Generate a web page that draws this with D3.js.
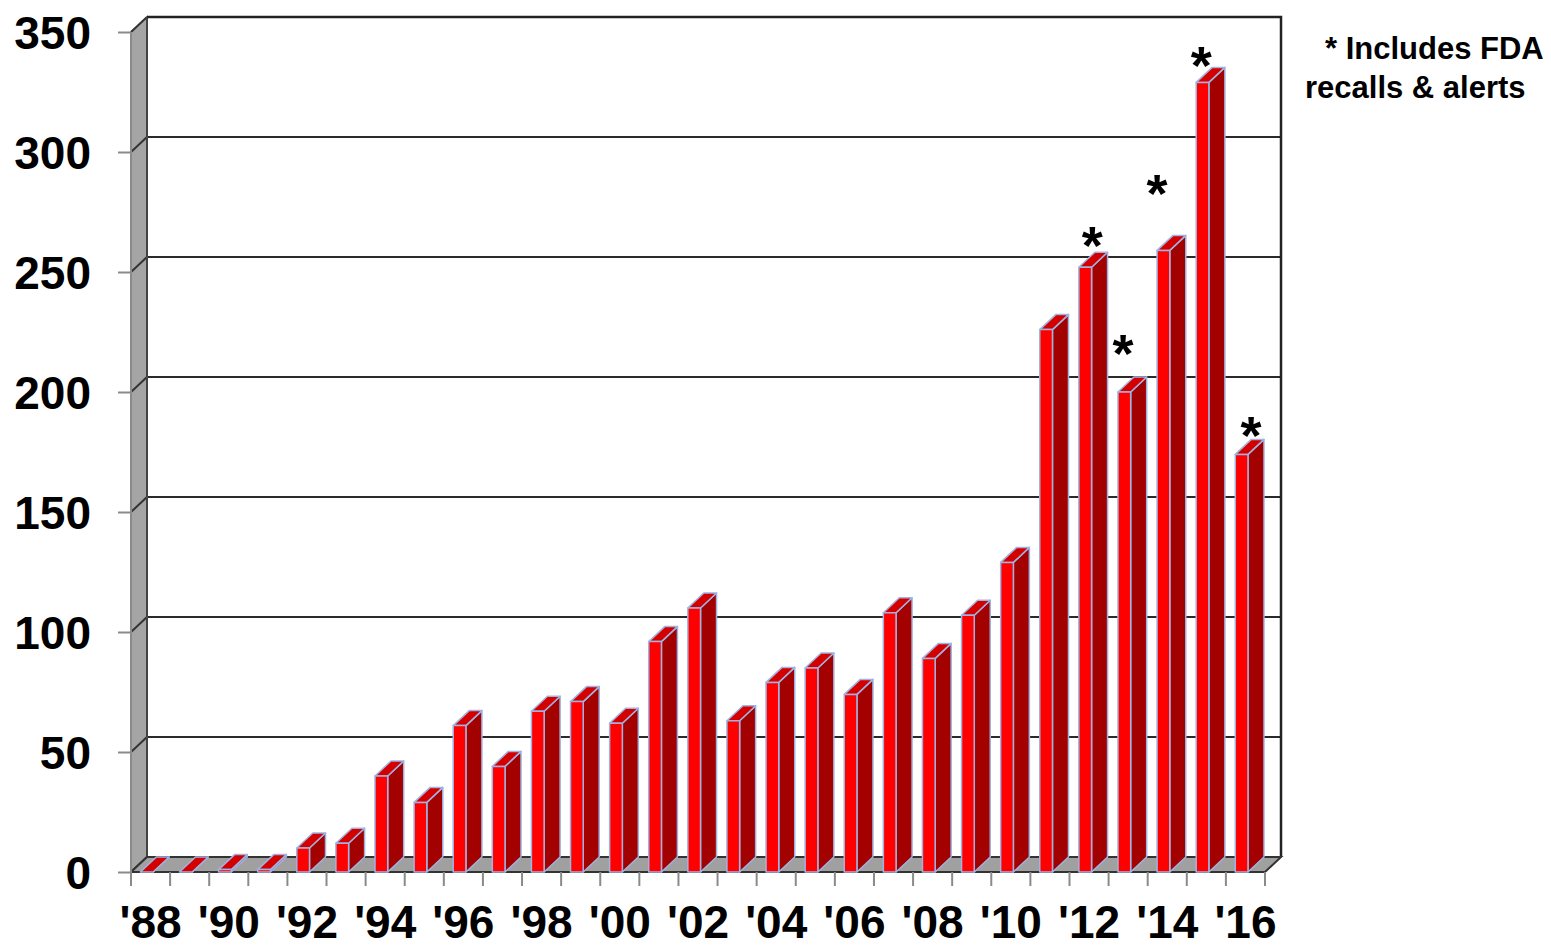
<!DOCTYPE html>
<html>
<head>
<meta charset="utf-8">
<script src="https://cdn.jsdelivr.net/npm/d3@7"></script>
<style>
  body { margin: 0; background: #fff; }
  svg { display: block; }
  text { font-family: "Liberation Sans", Arial, sans-serif; }
</style>
</head>
<body>
<svg id="chart" width="1551" height="947"></svg>
<script>
// Incidents per year, 1988-2016
const years = [1988, 1989, 1990, 1991, 1992, 1993, 1994, 1995, 1996, 1997,
               1998, 1999, 2000, 2001, 2002, 2003, 2004, 2005, 2006, 2007,
               2008, 2009, 2010, 2011, 2012, 2013, 2014, 2015, 2016];
const incidents = [0, 0, 1, 1, 10, 12, 40, 29, 61, 44,
                   67, 71, 62, 96, 110, 63, 79, 85, 74, 108,
                   89, 107, 129, 226, 252, 200, 259, 329, 174];
const yTicks = [0, 50, 100, 150, 200, 250, 300, 350];
const labelYears = [1988, 1990, 1992, 1994, 1996, 1998, 2000, 2002,
                    2004, 2006, 2008, 2010, 2012, 2014, 2016];
// Years whose counts include FDA recalls & alerts
const flaggedYears = [2012, 2013, 2014, 2015, 2016];
const noteLines = ["* Includes FDA", "recalls & alerts"];

// Asterisk placement: level in chart units, horizontal spot as a fraction of the band
const flagLevel = [266, 221, 288, 341, 187];
const flagShift = [0.58, 0.37, 0.24, 0.37, 0.64];

const svg = d3.select("#chart");

// Front plane of the 3-D box and its depth offset
const X0 = 131, X1 = 1265, Y0 = 872, Y1 = 32;
const DX = 16, DY = -15;

const x = d3.scaleBand().domain(years).range([X0, X1]).padding(0);
const y = d3.scaleLinear().domain([0, 350]).range([Y0, Y1]);
const bw = x.bandwidth();

const pts = a => a.map(p => p.join(",")).join(" ");

// Back wall
svg.append("rect")
  .attr("x", X0 + DX).attr("y", y(350) + DY)
  .attr("width", X1 - X0).attr("height", Y0 - y(350))
  .attr("fill", "#fff");

// Gridlines on the back wall
const grid = svg.append("g");
yTicks.filter(v => v > 0).forEach(v => {
  grid.append("line")
    .attr("x1", X0 + DX).attr("x2", X1 + DX)
    .attr("y1", y(v) + DY).attr("y2", y(v) + DY)
    .attr("stroke", "#2a2a2a").attr("stroke-width", 2);
});

// Left wall with its own grid steps
svg.append("polygon")
  .attr("points", pts([[X0, y(350)], [X0 + DX, y(350) + DY], [X0 + DX, Y0 + DY], [X0, Y0]]))
  .attr("fill", "#a5a5a5").attr("stroke", "#7a7a7a").attr("stroke-width", 1.5);
yTicks.forEach(v => {
  svg.append("line")
    .attr("x1", X0).attr("y1", y(v))
    .attr("x2", X0 + DX).attr("y2", y(v) + DY)
    .attr("stroke", "#333").attr("stroke-width", 2);
});
svg.append("line")
  .attr("x1", X0 + DX).attr("x2", X0 + DX)
  .attr("y1", y(350) + DY).attr("y2", Y0 + DY)
  .attr("stroke", "#444").attr("stroke-width", 2);

// Outer frame of the back wall (top and right)
svg.append("polyline")
  .attr("points", pts([[X0 + DX, y(350) + DY], [X1 + DX, y(350) + DY], [X1 + DX, Y0 + DY]]))
  .attr("fill", "none").attr("stroke", "#222").attr("stroke-width", 2.5);

// Floor
svg.append("polygon")
  .attr("points", pts([[X0, Y0], [X0 + DX, Y0 + DY], [X1 + DX, Y0 + DY], [X1, Y0]]))
  .attr("fill", "#a0a0a0").attr("stroke", "#333").attr("stroke-width", 2);

// Bars: front face, side face and top face
const bars = svg.append("g");
years.forEach((yr, i) => {
  const v = incidents[i];
  const fx = x(yr) + 0.24 * bw;
  const fw = 0.325 * bw;
  const top = y(v);
  const g = bars.append("g")
    .attr("stroke", "#9fb3e3").attr("stroke-width", 1.5).attr("stroke-linejoin", "round");
  g.append("polygon")
    .attr("points", pts([[fx + fw, Y0], [fx + fw, top], [fx + fw + DX, top + DY], [fx + fw + DX, Y0 + DY]]))
    .attr("fill", "#a30000");
  g.append("polygon")
    .attr("points", pts([[fx, top], [fx + fw, top], [fx + fw + DX, top + DY], [fx + DX, top + DY]]))
    .attr("fill", "#d40000");
  g.append("rect")
    .attr("x", fx).attr("y", top)
    .attr("width", fw).attr("height", Y0 - top)
    .attr("fill", "#ff0000");
});

// Value axis
const yAxis = d3.axisLeft(y)
  .tickValues(yTicks)
  .tickSize(13).tickSizeOuter(0).tickPadding(27)
  .tickFormat(d3.format("d"));
const ya = svg.append("g").attr("transform", `translate(${X0},0)`).call(yAxis);
ya.select(".domain").attr("stroke", "#8a8a8a").attr("stroke-width", 2)
  .attr("d", `M0,${y(350)}V${Y0 + 14}`);
ya.selectAll(".tick line").attr("stroke", "#8a8a8a").attr("stroke-width", 2);
ya.selectAll(".tick text")
  .attr("fill", "#000").attr("font-size", 46).attr("font-weight", "bold")
  .attr("font-family", "'Liberation Sans', Arial, sans-serif")
  .attr("dy", "0.36em");

// Category axis: ticks on band boundaries, labels every other year
const bounds = years.map(yr => x(yr)).concat([X1]);
svg.append("g").selectAll("line").data(bounds).join("line")
  .attr("x1", d => d).attr("x2", d => d)
  .attr("y1", Y0).attr("y2", Y0 + 14)
  .attr("stroke", "#8a8a8a").attr("stroke-width", 2);

const xAxis = d3.axisBottom(x)
  .tickValues(labelYears)
  .tickSize(0).tickPadding(33)
  .tickFormat(d => "'" + String(d).slice(2));
const xa = svg.append("g").attr("transform", `translate(0,${Y0})`).call(xAxis);
xa.select(".domain").remove();
xa.selectAll(".tick text")
  .attr("fill", "#000").attr("font-size", 46).attr("font-weight", "bold")
  .attr("font-family", "'Liberation Sans', Arial, sans-serif");

// Asterisks over the flagged years
const starSize = 54;
flaggedYears.forEach((yr, k) => {
  const cx = x(yr) + flagShift[k] * bw;
  const cy = y(flagLevel[k]);
  svg.append("text")
    .attr("x", cx).attr("y", cy + 0.57 * starSize)
    .attr("text-anchor", "middle")
    .attr("font-size", starSize)
    .attr("font-weight", "bold")
    .attr("fill", "#000")
    .text("*");
});

// Note
svg.append("text").attr("x", 1325).attr("y", 59)
  .attr("font-size", 31).attr("font-weight", "bold").attr("fill", "#000")
  .text(noteLines[0]);
svg.append("text").attr("x", 1305).attr("y", 98)
  .attr("font-size", 31).attr("font-weight", "bold").attr("fill", "#000")
  .text(noteLines[1]);
</script>
</body>
</html>
